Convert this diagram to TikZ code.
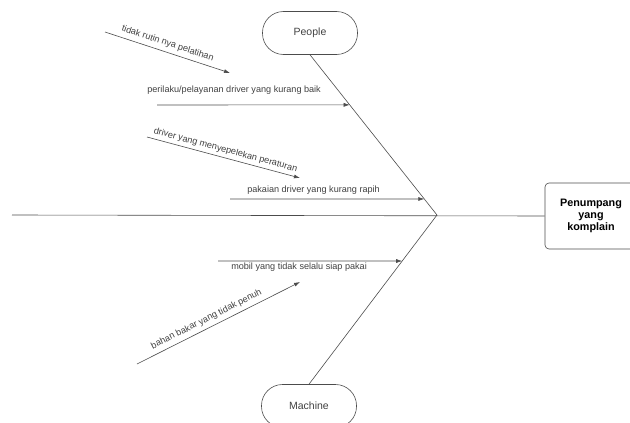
\documentclass[tikz,border=0pt]{standalone}
\usepackage{fontspec}
\setmainfont{Liberation Sans}
\usetikzlibrary{calc,arrows.meta}

\begin{document}
\begin{tikzpicture}[x=1pt, y=-1pt, line width=0.6pt, draw=black!70,
        cat/.style={draw, rounded corners=21pt, minimum width=95pt, minimum height=43pt, font=\fontsize{10.5}{12}\selectfont, text=black!75},
        head/.style={draw, rounded corners=4pt, minimum width=92pt, minimum height=66pt, align=center, font=\fontsize{10.8}{12}\selectfont\bfseries},
        cause/.style={draw=black!70, -{Latex[length=6pt,width=4pt]}},
        lbl/.style={font=\fontsize{9.1}{10}\selectfont, text=black!75, inner sep=2pt},]
        \useasboundingbox (0,0) rectangle (630,423);
        \node[cat] (people) at (310,33) {People};
        \node[cat] (machine) at (309,406) {Machine};
        \node[head] (effect) at (591,216) {Penumpang\\yang\\komplain};
        \coordinate (tail) at (12,215);
        \coordinate (joint) at (437,215);
        \draw (tail) -- (effect.west);
        \draw (people.south) -- (joint);
        \draw (joint) -- (machine.north);
        % people
        \coordinate (p1) at (105,32);
        \coordinate (p1e) at (230,73);
        \draw[cause] (p1) -- node[lbl, above=2pt, sloped, pos=0.48] {tidak rutin nya pelatihan} (p1e);
        \coordinate (p2) at (157,105);
        \draw[cause] (p2) -- node[lbl, above=8pt, pos=0.4] {perilaku/pelayanan driver yang kurang baik} ($(people.south)!0.3125!(joint)$);
        \coordinate (p3) at (147,137);
        \coordinate (p3e) at (300,178);
        \draw[cause] (p3) -- node[lbl, above=1pt, sloped] {driver yang menyepelekan peraturan} (p3e);
        \coordinate (p4) at (230,199);
        \draw[cause] (p4) -- node[lbl, above=2pt, pos=0.43] {pakaian driver yang kurang rapih} ($(people.south)!0.9!(joint)$);
        % machine
        \coordinate (m1) at (218,261);
        \draw[cause] (m1) -- node[lbl, below=0pt, pos=0.44] {mobil yang tidak selalu siap pakai} ($(joint)!0.272!(machine.north)$);
        \coordinate (m2) at (137,364);
        \coordinate (m2e) at (300,282);
        \draw[cause] (m2) -- node[lbl, above=2pt, sloped, pos=0.45] {bahan bakar yang tidak penuh} (m2e);
      \end{tikzpicture}
\end{document}
